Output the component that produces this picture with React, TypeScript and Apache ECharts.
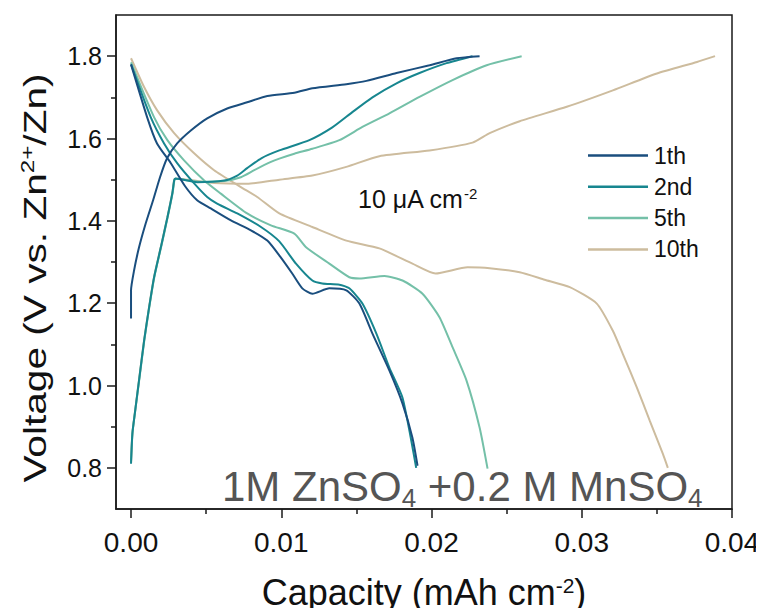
import React, { useEffect, useRef } from "react";
import * as echarts from "echarts";

const cycleNames = ["1th", "2nd", "5th", "10th"];
const cycleColors = ["#1a4e7e", "#17868f", "#74c0a8", "#cdbc9e"];

const xMajorTicks = [0, 0.01, 0.02, 0.03, 0.04];
const xMinorTicks = [0.005, 0.015, 0.025, 0.035];
const yMajorTicks = [0.8, 1.0, 1.2, 1.4, 1.6, 1.8];
const yMinorTicks = [0.9, 1.1, 1.3, 1.5, 1.7];

// [capacity (mAh cm-2), voltage (V)]
const charge1 = [
  [0, 1.163], [0, 1.231], [0.0002, 1.279], [0.00053, 1.335], [0.00098, 1.394],
  [0.00147, 1.45], [0.00193, 1.506], [0.0024, 1.552], [0.00307, 1.588], [0.004, 1.62],
  [0.00507, 1.649], [0.0064, 1.673], [0.00773, 1.688], [0.00907, 1.703], [0.01087, 1.711],
  [0.01207, 1.722], [0.01433, 1.732], [0.01567, 1.74], [0.01767, 1.759], [0.01987, 1.778],
  [0.02167, 1.795], [0.0232, 1.8],
];
const discharge1 = [
  [0, 1.78], [0.00107, 1.652], [0.00173, 1.588], [0.00265, 1.54], [0.0036, 1.484],
  [0.0044, 1.45], [0.00531, 1.43], [0.00665, 1.401], [0.00798, 1.377], [0.00907, 1.352],
  [0.00993, 1.313], [0.01073, 1.272], [0.0114, 1.236], [0.01207, 1.223], [0.0132, 1.236],
  [0.01433, 1.231], [0.0152, 1.199], [0.01607, 1.126], [0.0172, 1.036], [0.01807, 0.956],
  [0.01873, 0.873], [0.01907, 0.805],
];
const charge2 = [
  [0, 0.81], [0.00009, 0.883], [0.00025, 0.931], [0.00053, 1.012], [0.00087, 1.109],
  [0.0012, 1.189], [0.00153, 1.262], [0.00198, 1.335], [0.00242, 1.408], [0.00275, 1.467],
  [0.00287, 1.498], [0.00295, 1.503], [0.0044, 1.494], [0.0062, 1.498], [0.00707, 1.51],
  [0.00773, 1.528], [0.00867, 1.552], [0.00987, 1.571], [0.01187, 1.596], [0.0134, 1.627],
  [0.01473, 1.664], [0.01607, 1.7], [0.01767, 1.734], [0.0192, 1.759], [0.021, 1.783],
  [0.02273, 1.8],
];
const discharge2 = [
  [0, 1.78], [0.00131, 1.652], [0.0022, 1.588], [0.00307, 1.54], [0.0042, 1.491],
  [0.00507, 1.458], [0.00573, 1.442], [0.00707, 1.418], [0.00865, 1.385], [0.00987, 1.35],
  [0.01098, 1.296], [0.01207, 1.255], [0.01273, 1.248], [0.01387, 1.245], [0.01453, 1.236],
  [0.0154, 1.199], [0.01633, 1.126], [0.0172, 1.043], [0.01807, 0.97], [0.01898, 0.8],
];
const charge5 = [
  [0, 0.815], [0.0001, 0.885], [0.00026, 0.933], [0.00055, 1.014], [0.00089, 1.111],
  [0.00122, 1.191], [0.00155, 1.263], [0.002, 1.336], [0.00244, 1.409], [0.00277, 1.468],
  [0.00289, 1.499], [0.00297, 1.502], [0.0045, 1.495], [0.0062, 1.497], [0.00731, 1.506],
  [0.0082, 1.523], [0.00931, 1.543], [0.00987, 1.551], [0.01087, 1.563], [0.01207, 1.575],
  [0.01387, 1.596], [0.0154, 1.628], [0.0172, 1.661], [0.0192, 1.701], [0.0214, 1.742],
  [0.02367, 1.778], [0.026, 1.8],
];
const discharge5 = [
  [0, 1.785], [0.00153, 1.652], [0.00242, 1.596], [0.00353, 1.547], [0.00487, 1.498],
  [0.00598, 1.466], [0.00773, 1.418], [0.00931, 1.389], [0.01087, 1.369], [0.01165, 1.336],
  [0.0132, 1.296], [0.01453, 1.263], [0.0152, 1.26], [0.01687, 1.266], [0.01807, 1.255],
  [0.0194, 1.223], [0.02053, 1.166], [0.0214, 1.093], [0.02233, 1.012], [0.0232, 0.898],
  [0.02373, 0.798],
];
const charge10 = [
  [0, 0.812], [0.00009, 0.884], [0.00025, 0.932], [0.00053, 1.013], [0.00087, 1.11],
  [0.0012, 1.19], [0.00153, 1.263], [0.00198, 1.336], [0.00242, 1.409], [0.00275, 1.468],
  [0.00287, 1.499], [0.00295, 1.502], [0.00553, 1.492], [0.00773, 1.49], [0.00987, 1.5],
  [0.01207, 1.51], [0.01433, 1.531], [0.01653, 1.557], [0.01987, 1.571], [0.02273, 1.59],
  [0.02387, 1.613], [0.02587, 1.642], [0.029, 1.677], [0.03207, 1.717], [0.035, 1.758],
  [0.03767, 1.786], [0.03887, 1.8],
];
const discharge10 = [
  [0, 1.795], [0.00087, 1.725], [0.00173, 1.669], [0.00287, 1.613], [0.0042, 1.564],
  [0.00553, 1.523], [0.00731, 1.482], [0.0084, 1.458], [0.00987, 1.418], [0.01207, 1.385],
  [0.01433, 1.352], [0.01653, 1.333], [0.01873, 1.296], [0.02027, 1.272], [0.0224, 1.287],
  [0.02387, 1.285], [0.02587, 1.275], [0.02753, 1.257], [0.0292, 1.239], [0.031, 1.199],
  [0.03207, 1.133], [0.03273, 1.077], [0.03367, 0.995], [0.03453, 0.914], [0.0354, 0.834],
  [0.03573, 0.8],
];

const curves = [
  [charge1, discharge1],
  [charge2, discharge2],
  [charge5, discharge5],
  [charge10, discharge10],
];

const FONT = "'Liberation Sans', Arial, Helvetica, sans-serif";
const AXIS_COLOR = "#1a1a1a";

export default function App() {
  const ref = useRef<HTMLDivElement>(null);

  useEffect(() => {
    if (!ref.current) return;
    const chart = echarts.init(ref.current, undefined, { renderer: "svg" });

    const series: any[] = [];
    curves.forEach((pair, i) => {
      pair.forEach((data) => {
        series.push({
          type: "line",
          name: cycleNames[i],
          data,
          xAxisIndex: 0,
          yAxisIndex: 0,
          symbol: "none",
          showSymbol: false,
          smooth: 0.2,
          lineStyle: { width: 2, color: cycleColors[i] },
          itemStyle: { color: cycleColors[i] },
          z: 10 - i,
        });
      });
    });

    const hidden = { show: false };
    const hiddenLine = { show: false, onZero: false };

    chart.setOption({
      animation: false,
      backgroundColor: "#ffffff",
      textStyle: { fontFamily: FONT },
      grid: {
        left: 116,
        right: 32,
        top: 15,
        bottom: 107,
        outerBoundsMode: "none",
        containLabel: false,
        show: true,
        borderColor: AXIS_COLOR,
        borderWidth: 1.5,
        backgroundColor: "transparent",
      },
      legend: {
        data: cycleNames,
        orient: "vertical",
        left: 583,
        top: 139,
        icon: "rect",
        itemWidth: 60,
        itemHeight: 2.5,
        itemGap: 8.3,
        selectedMode: false,
        textStyle: {
          fontSize: 23,
          color: "#111",
          lineHeight: 22,
          fontFamily: FONT,
          padding: [0, 0, 0, 1],
        },
      },
      xAxis: [
        {
          type: "value",
          min: -0.001,
          max: 0.04,
          name: "Capacity (mAh cm{sup|-2})",
          nameLocation: "middle",
          nameGap: 66,
          nameTextStyle: {
            fontSize: 36,
            color: "#111",
            fontFamily: FONT,
            lineHeight: 34,
            rich: {
              sup: { fontSize: 21, lineHeight: 14, verticalAlign: "top", color: "#111", fontFamily: FONT },
            },
          },
          axisLine: { show: true, onZero: false, lineStyle: { color: AXIS_COLOR, width: 1.5 } },
          axisTick: {
            show: true,
            inside: false,
            length: 9,
            customValues: xMajorTicks,
            lineStyle: { color: AXIS_COLOR, width: 1.5 },
          },
          minorTick: hidden,
          splitLine: hidden,
          axisLabel: {
            fontSize: 28,
            color: "#111",
            margin: 19,
            customValues: xMajorTicks,
            fontFamily: FONT,
            formatter: (v: number) => v.toFixed(2),
          },
        },
        {
          type: "value",
          min: -0.001,
          max: 0.04,
          position: "bottom",
          offset: 0,
          axisLine: hiddenLine,
          axisTick: {
            show: true,
            inside: false,
            length: 5,
            customValues: xMinorTicks,
            lineStyle: { color: AXIS_COLOR, width: 1.5 },
          },
          axisLabel: hidden,
          splitLine: hidden,
        },
      ],
      yAxis: [
        {
          type: "value",
          min: 0.7,
          max: 1.9,
          axisLine: { show: true, onZero: false, lineStyle: { color: AXIS_COLOR, width: 1.5 } },
          axisTick: {
            show: true,
            inside: false,
            length: 9,
            customValues: yMajorTicks,
            lineStyle: { color: AXIS_COLOR, width: 1.5 },
          },
          minorTick: hidden,
          splitLine: hidden,
          axisLabel: {
            fontSize: 25,
            color: "#111",
            margin: 14,
            customValues: yMajorTicks,
            fontFamily: FONT,
            formatter: (v: number) => v.toFixed(1),
          },
        },
        {
          type: "value",
          min: 0.7,
          max: 1.9,
          position: "left",
          offset: 0,
          axisLine: hiddenLine,
          axisTick: {
            show: true,
            inside: false,
            length: 5,
            customValues: yMinorTicks,
            lineStyle: { color: AXIS_COLOR, width: 1.5 },
          },
          axisLabel: hidden,
          splitLine: hidden,
        },
      ],
      graphic: [
        {
          type: "text",
          x: 35,
          y: 278,
          rotation: Math.PI / 2,
          scaleX: 1.27,
          style: {
            text: "Voltage (V vs. Zn{sup|2+}/Zn)",
            fill: "#111",
            font: `32px ${FONT}`,
            align: "center",
            verticalAlign: "middle",
            lineHeight: 34,
            rich: {
              sup: { fontSize: 19, lineHeight: 12, verticalAlign: "top", fill: "#111", fontFamily: FONT },
            },
          },
        },
        {
          type: "text",
          x: 358,
          y: 199,
          style: {
            text: "10 \u03bcA cm{sup|-2}",
            fill: "#111",
            font: `25px ${FONT}`,
            align: "left",
            verticalAlign: "middle",
            lineHeight: 26,
            rich: {
              sup: { fontSize: 15, lineHeight: 10, verticalAlign: "top", fill: "#111", fontFamily: FONT },
            },
          },
        },
        {
          type: "text",
          x: 222,
          y: 486,
          style: {
            text: "{m|1M ZnSO}{s|4}{m| +0.2 M MnSO}{s|4}",
            fill: "#555555",
            font: `42px ${FONT}`,
            align: "left",
            verticalAlign: "middle",
            rich: {
              m: { fontSize: 42, lineHeight: 42, verticalAlign: "top", fill: "#555555", fontFamily: FONT },
              s: {
                fontSize: 26,
                lineHeight: 26,
                padding: [20, 0, 0, 0],
                verticalAlign: "top",
                fill: "#555555",
                fontFamily: FONT,
              },
            },
          },
        },
      ],
      series,
    });

    return () => chart.dispose();
  }, []);

  return <div ref={ref} style={{ width: 764, height: 616, margin: -8 }} />;
}
